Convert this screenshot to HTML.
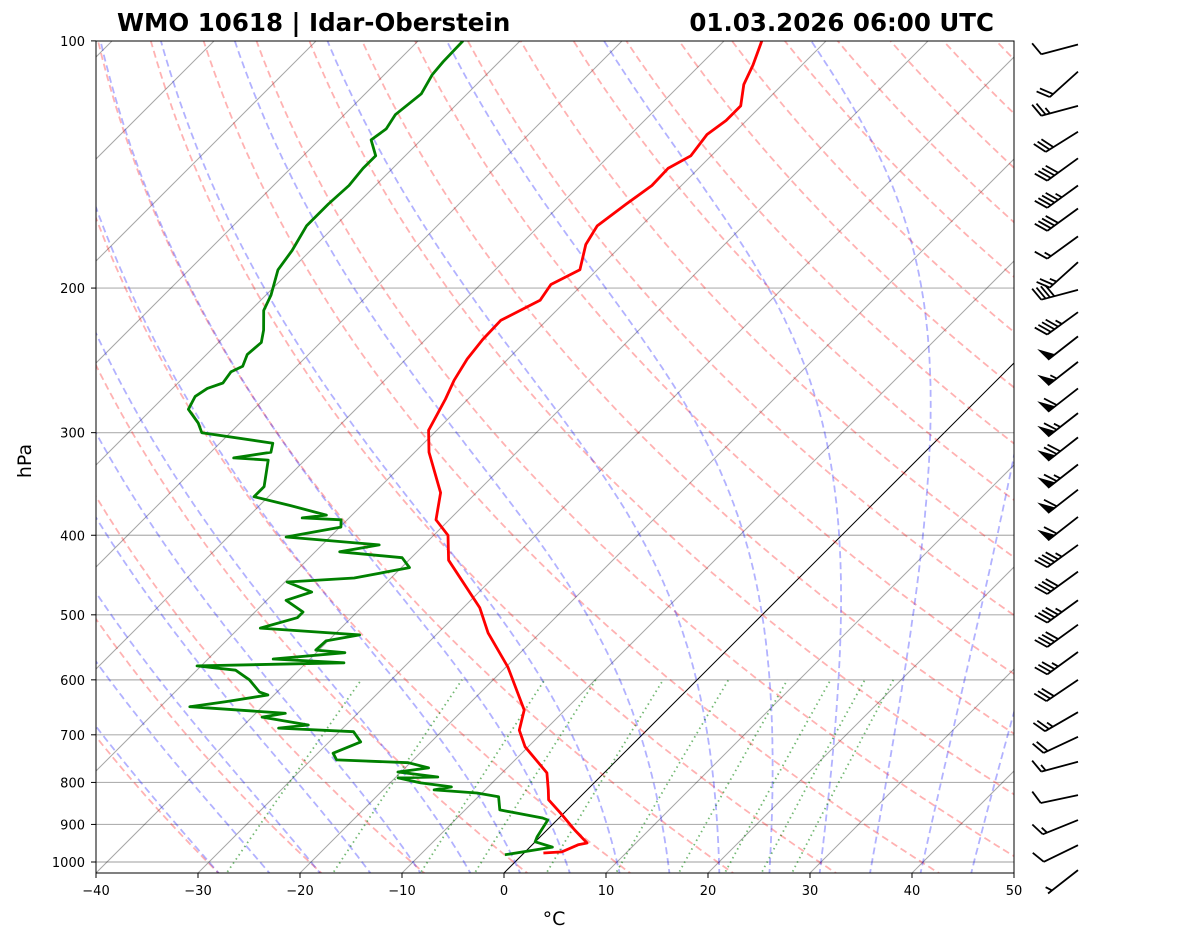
<!DOCTYPE html>
<html><head><meta charset="utf-8"><style>
body{margin:0;background:#fff;font-family:"DejaVu Sans","Liberation Sans",sans-serif}
svg text{font-family:"DejaVu Sans","Liberation Sans",sans-serif}
</style></head><body>
<svg id="c" width="1181" height="941" xmlns="http://www.w3.org/2000/svg">
<defs><clipPath id="clip"><rect x="96" y="41" width="918" height="832"/></clipPath></defs>
<rect width="1181" height="941" fill="#fff"/>
<g id="bg" clip-path="url(#clip)"></g>
<g id="prof" clip-path="url(#clip)"></g>
<rect x="96" y="41" width="918" height="832" fill="none" stroke="#000" stroke-width="1"/>
<g id="axes"></g>
<g id="barbs"></g>
<text x="117" y="31" font-size="24.5" font-weight="bold">WMO 10618 | Idar-Oberstein</text>
<text x="994" y="31" font-size="24.5" font-weight="bold" text-anchor="end">01.03.2026 06:00 UTC</text>
<text x="554" y="925" font-size="19" text-anchor="middle">°C</text>
<text x="31" y="461" font-size="19" text-anchor="middle" transform="rotate(-90 31 461)">hPa</text>
</svg>
<script>
const tempP=[975,972,953,948,914,871,840,817,779,724,691,653,579,526,490,429,400,383,355,317,298,273,259,244,231,219,207,198,190,177,168,158,150,143,138,130,125,120,113,107,100];
const tempT=[1.9,3.6,4.5,5.2,2.7,-0.4,-2.8,-3.8,-5.6,-10.3,-12.5,-14.0,-19.8,-25.1,-28.4,-36.1,-38.6,-41.3,-43.5,-48.6,-50.8,-52.2,-53.2,-54.0,-54.4,-54.5,-52.6,-53.1,-51.7,-53.6,-54.3,-53.6,-52.9,-53.0,-52.0,-52.5,-52.0,-52.0,-53.8,-54.8,-56.3];
const dewP=[980,959,945,932,889,884,864,833,824,817,810,801,790,788,777,768,757,751,737,714,694,687,681,666,659,647,638,626,621,600,584,577,572,566,556,552,538,529,519,504,496,480,469,456,451,438,426,419,411,402,391,383,381,378,368,359,349,324,322,317,309,300,292,281,271,265,261,253,249,241,233,225,213,204,190,180,168,158,150,143,138,132,128,123,116,110,106,100];
const dewT=[-1.7,2.2,0.0,-0.3,-0.9,-1.6,-6.6,-8.0,-10.5,-15.0,-13.6,-17.0,-19.7,-15.9,-20.3,-17.7,-20.2,-27.5,-28.5,-26.9,-28.6,-36.3,-33.7,-39.0,-37.1,-47.1,-44.1,-40.6,-41.7,-43.9,-46.2,-50.4,-36.3,-43.6,-37.2,-40.3,-40.2,-37.5,-47.9,-45.3,-45.3,-48.1,-46.4,-49.8,-43.6,-39.2,-40.9,-47.6,-44.4,-54.3,-49.9,-50.6,-54.6,-52.5,-57.0,-61.4,-61.4,-63.6,-67.2,-64.1,-64.8,-72.8,-74.1,-76.4,-77.0,-76.6,-75.6,-75.9,-75.3,-76.0,-75.8,-76.8,-78.7,-79.5,-81.3,-81.8,-82.8,-82.8,-82.6,-82.9,-82.9,-84.9,-84.5,-85.0,-84.5,-85.3,-85.5,-85.6];
const barbP=[101,109,120,129,139,150,160,173,186,201,214,229,246,265,284,304,328,352,380,411,443,480,514,555,600,657,704,755,829,889,954,1023];
const barbSpd=[10,20,25,30,40,45,40,15,25,40,45,50,55,60,65,70,65,60,60,45,40,45,40,35,30,25,20,15,10,15,10,5];
const barbDir=[255,228,255,238,234,234,234,234,228,255,234,232,232,232,232,232,232,232,232,234,234,234,234,234,236,240,245,255,258,248,244,232];
const xTicks=[-40,-30,-20,-10,0,10,20,30,40,50];
const pTicks=[100,200,300,400,500,600,700,800,900,1000];

const NS='http://www.w3.org/2000/svg';
function yP(p){return 862-356.6*Math.log(1000/p);}
function xT(T,p){return 504+10.2*T+(873-yP(p));}
function mk(tag,attrs,parent){const e=document.createElementNS(NS,tag);for(const k in attrs)e.setAttribute(k,attrs[k]);parent.appendChild(e);return e;}
const bg=document.getElementById('bg'),prof=document.getElementById('prof'),axes=document.getElementById('axes'),barbs=document.getElementById('barbs');
function poly(pts,style,parent,name){const e=mk('polyline',Object.assign({points:pts.map(q=>q[0].toFixed(1)+','+q[1].toFixed(1)).join(' '),fill:'none'},style),parent);


return e;}
const pLevels=[];for(let p=1040;p>=99;p-=5)pLevels.push(p);
pTicks.forEach(p=>{const l=mk('line',{x1:96,x2:1014,y1:yP(p),y2:yP(p),stroke:'#b0b0b0','stroke-width':1.2},bg);

});
for(let T=-120;T<=50;T+=10){poly([[xT(T,1040),yP(1040)],[xT(T,99),yP(99)]],{stroke:T==0?'#000':'rgba(0,0,0,0.35)','stroke-width':1},bg,'isotherm');}
for(let th=243;th<=483;th+=10){poly(pLevels.map(p=>[xT(th*Math.pow(p/1000,0.2857)-273.15,p),yP(p)]),{stroke:'rgba(255,0,0,0.3)','stroke-width':1.8,'stroke-dasharray':'7,4'},bg,'dry-adiabat');}
function es(T){return 6.112*Math.exp(17.67*(T-273.15)/(T-29.65));}
function dTdp(T,p){const rs=0.622*es(T)/(p-es(T));return (287*T+2.5e6*rs)/(p*(1005+2.5e6*2.5e6*rs*0.622/(287*T*T)));}
for(let T0=-30;T0<=50;T0+=5){let pts=[];let T=T0+273.15;
 let Tb=T;for(let p=1000;p<1040;p+=1){Tb+=dTdp(Tb,p)*1;} pts.push([xT(Tb-273.15,1040),yP(1040)]);
 for(let p=1000;p>=100;p-=2){pts.push([xT(T-273.15,p),yP(p)]);T-=dTdp(T,p)*2;}
 pts.sort((a,b)=>b[1]-a[1]);
 poly(pts,{stroke:'rgba(0,0,255,0.3)','stroke-width':1.8,'stroke-dasharray':'7,4'},bg,'moist-adiabat');}
[0.4,1,2,3,5,8,12,16,20,24].forEach(w=>{const pts=[];for(let p=1040;p>=600;p-=10){const e=w*p/(622+w);const l=Math.log(e/6.112);const Td=243.5*l/(17.67-l);pts.push([xT(Td,p),yP(p)]);}
 poly(pts,{stroke:'rgba(0,128,0,0.55)','stroke-width':1.8,'stroke-dasharray':'1.5,3.5'},bg,'mixing-ratio-line');});
poly(tempP.map((p,i)=>[xT(tempT[i],p),yP(p)]),{stroke:'#f00','stroke-width':2.8,'stroke-linejoin':'round'},prof,'temperature-line');
poly(dewP.map((p,i)=>[xT(dewT[i],p),yP(p)]),{stroke:'#008000','stroke-width':2.8,'stroke-linejoin':'round'},prof,'dewpoint-line');
xTicks.forEach(t=>{const x=504+10.2*t;mk('line',{x1:x,x2:x,y1:873,y2:878,stroke:'#000'},axes);
 const tx=mk('text',{x:x,y:895,'font-size':13,'text-anchor':'middle'},axes);tx.textContent=(t<0?'\u2212'+(-t):t);
 
 });
pTicks.forEach(p=>{const y=yP(p);mk('line',{x1:91,x2:96,y1:y,y2:y,stroke:'#000'},axes);
 const tx=mk('text',{x:85,y:y+5,'font-size':13,'text-anchor':'end'},axes);tx.textContent=p;
 
 });
barbP.forEach((p,i)=>{const g=mk('g',{},barbs);
 
 
 const sx=1078,sy=yP(p),d=barbDir[i]*Math.PI/180,L=38;
 const ux=Math.sin(d),uy=-Math.cos(d);
 let qx=uy,qy=-ux; if(qy>0){qx=-qx;qy=-qy;}
 const ex=sx+ux*L,ey=sy+uy*L;
 mk('line',{x1:sx,y1:sy,x2:ex,y2:ey,stroke:'#000','stroke-width':1.8},g);
 let s=Math.round(barbSpd[i]/5)*5,pos=0;
 while(s>=50){const ax=ex-ux*pos,ay=ey-uy*pos,bx=ex-ux*(pos+9),by=ey-uy*(pos+9);
  mk('polygon',{points:`${ax},${ay} ${ax+qx*15+ux*2},${ay+qy*15+uy*2} ${bx},${by}`,fill:'#000'},g);pos+=11;s-=50;}
 if(barbSpd[i]<10&&pos==0)pos=5;
 while(s>=10){const ax=ex-ux*pos,ay=ey-uy*pos;mk('line',{x1:ax,y1:ay,x2:ax+qx*13+ux*6,y2:ay+qy*13+uy*6,stroke:'#000','stroke-width':1.8},g);pos+=4.5;s-=10;}
 if(s>=5){const ax=ex-ux*pos,ay=ey-uy*pos;mk('line',{x1:ax,y1:ay,x2:ax+qx*6.5+ux*3,y2:ay+qy*6.5+uy*3,stroke:'#000','stroke-width':1.8},g);}
});
</script>
</body></html>
